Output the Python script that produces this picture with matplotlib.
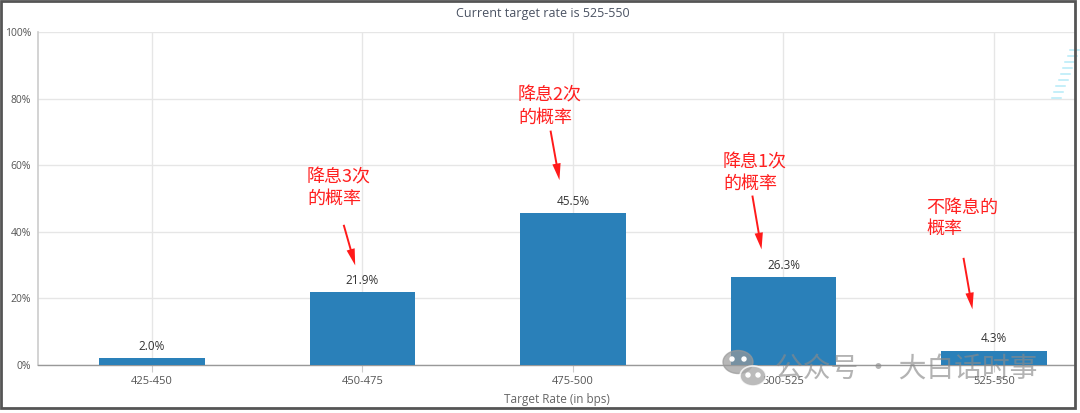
import matplotlib.pyplot as plt
import numpy as np
from matplotlib.patches import Rectangle, Ellipse, FancyArrowPatch
from matplotlib.lines import Line2D

## Probabilities for each target rate bucket
categories = ["425-450", "450-475", "475-500", "500-525", "525-550"]
probs = [2.0, 21.9, 45.5, 26.3, 4.3]
yticks = [0, 20, 40, 60, 80, 100]
ytick_labels = ["0%", "20%", "40%", "60%", "80%", "100%"]

## Red notes: text, text anchor (x, y), arrow tail, arrow tip
notes = [
    ("降息3次\n的概率", (0.736, 53.2), (0.907, 42.9), (0.969, 29.1)),
    ("降息2次\n的概率", (1.739, 77.6), (1.891, 71.2), (1.938, 54.7)),
    ("降息1次\n的概率", (2.713, 57.5), (2.850, 51.7), (2.898, 33.9)),
    ("不降息的\n概率", (3.677, 44.0), (3.853, 33.0), (3.900, 15.9)),
]

W, H = 1080, 413
fig = plt.figure(figsize=(W / 100, H / 100), dpi=100)
fig.patch.set_facecolor("white")
ax = fig.add_axes([38 / W, 48 / H, (1075 - 38) / W, (365 - 32) / H])

x = np.arange(len(categories))
ax.bar(x, probs, width=0.5, color="#2a80b9", zorder=3)

for xi, v in zip(x, probs):
    ax.annotate(f"{v:.1f}%", (xi, v), xytext=(0, 4), textcoords="offset points",
                ha="center", va="bottom", fontsize=8.5, color="#333333",
                family="Open Sans", zorder=4)

## Axes config
ax.set_xlim(-0.5416, 4.385)
ax.set_ylim(0, 100)
ax.set_xticks(x)
ax.set_xticklabels(categories, family="Open Sans", fontsize=8, color="#555555")
ax.set_yticks(yticks)
ax.set_yticklabels(ytick_labels, family="Open Sans", fontsize=7.5, color="#555555")
ax.tick_params(axis="x", length=5, width=0.8, color="#cccccc", pad=3)
ax.tick_params(axis="y", length=0, pad=5)
ax.grid(True, color="#e6e6e6", linewidth=1, zorder=0)
for s in ["top", "right"]:
    ax.spines[s].set_visible(False)
ax.spines["left"].set_color("#cccccc")
ax.spines["left"].set_linewidth(1.2)
ax.spines["bottom"].set_color("#999999")
ax.spines["bottom"].set_linewidth(1)

ax.set_xlabel("Target Rate (in bps)", family="Open Sans", fontsize=8.5,
              color="#666666", labelpad=4)
fig.text(543 / W, 1 - 13 / H, "Current target rate is 525-550", ha="center",
         va="center", family="Open Sans", fontsize=9, color="#4a5262")

## Red notes with arrows
for text, pos, tail, tip in notes:
    ax.text(pos[0], pos[1], text, ha="left", va="center", color="#ff2020",
            fontsize=13, family=["Noto Sans CJK SC", "DejaVu Sans"],
            linespacing=1.25, zorder=5)
    arr = FancyArrowPatch(tail, tip, arrowstyle="simple,head_length=12,head_width=6,tail_width=1.4",
                          mutation_scale=1, color="#ff1a1a", lw=0, zorder=5)
    ax.add_patch(arr)

## Watermark
fig.add_artist(Ellipse((738 / W, 1 - 362 / H), 30 / W, 23 / H, color="#999999", alpha=0.7, zorder=6))
fig.add_artist(Ellipse((753 / W, 1 - 376 / H), 26 / W, 20 / H, facecolor="#aaaaaa",
                       edgecolor="white", lw=1.2, alpha=0.8, zorder=7))
for ex, ey in [(732, 359), (744, 359), (748, 375), (758, 375)]:
    fig.add_artist(Ellipse((ex / W, 1 - ey / H), 4 / W, 4 / H, color="white", zorder=8))
fig.text(775 / W, 1 - 369 / H, "公众号 · 大白话时事", ha="left", va="center",
         fontsize=20, color="#8a8a8a", alpha=0.65,
         family=["Noto Sans CJK SC", "DejaVu Sans"], zorder=6)

## Faint cyan stripes at the right edge
for i, yy in enumerate(np.arange(50, 102, 6)):
    x0 = 1070 - i * 2.3
    fig.add_artist(Line2D([x0 / W, (x0 + 9) / W], [1 - yy / H, 1 - yy / H],
                          color="#b5ebf8", lw=1.1, zorder=6))

## Outer frame
fig.add_artist(Rectangle((1 / W, 1 - 408 / H), 1074 / W, 407 / H, fill=False,
                         edgecolor="#555555", lw=2, zorder=10))

plt.savefig("out.png", dpi=100)
